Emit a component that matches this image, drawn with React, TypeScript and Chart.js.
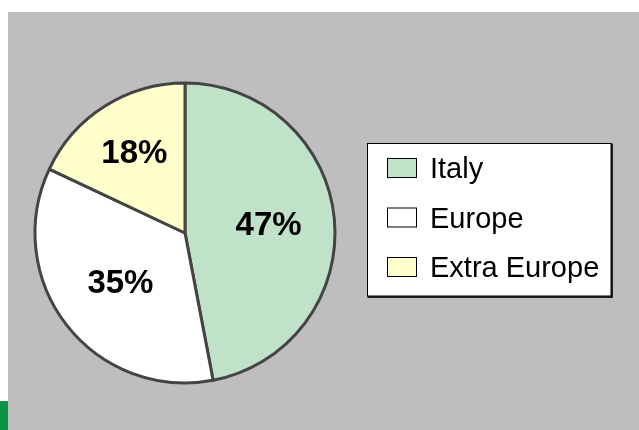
import React, { useEffect, useRef } from "react";
import { Chart, registerables } from "chart.js";

Chart.register(...registerables);

const categories = ["Italy", "Europe", "Extra Europe"];
const shares = [47, 35, 18];
const sliceColors = ["#c0e2c9", "#ffffff", "#ffffcc"];

const FONT = "Arial, 'Liberation Sans', sans-serif";

const backdropPlugin = {
  id: "backdrop",
  beforeDraw(chart: any) {
    const ctx = chart.ctx;
    ctx.save();
    ctx.fillStyle = "#ffffff";
    ctx.fillRect(0, 0, chart.width, chart.height);
    ctx.fillStyle = "#bebebe";
    ctx.fillRect(8, 12, chart.width - 8, chart.height - 12);
    ctx.fillStyle = "#0b9444";
    ctx.fillRect(0, 401, 8, chart.height - 401);
    ctx.restore();
  },
};

const labelFactors = [0.56, 0.545, 0.63];

const labelsPlugin = {
  id: "sliceLabels",
  afterDatasetsDraw(chart: any) {
    const ctx = chart.ctx;
    const meta = chart.getDatasetMeta(0);
    ctx.save();
    ctx.font = `bold 33px ${FONT}`;
    ctx.fillStyle = "#000";
    ctx.textAlign = "center";
    ctx.textBaseline = "middle";
    meta.data.forEach((arc: any, i: number) => {
      const { x, y, startAngle, endAngle, outerRadius } = arc.getProps(
        ["x", "y", "startAngle", "endAngle", "outerRadius"],
        true
      );
      const mid = (startAngle + endAngle) / 2;
      const r = outerRadius * labelFactors[i];
      ctx.fillText(`${shares[i]}%`, x + Math.cos(mid) * r, y + Math.sin(mid) * r + 1);
    });
    ctx.restore();
  },
};

const legendPlugin = {
  id: "boxLegend",
  afterDraw(chart: any) {
    const ctx = chart.ctx;
    const left = 367.5, top = 143.5, right = 611, bottom = 296;
    ctx.save();
    ctx.fillStyle = "#ffffff";
    ctx.fillRect(left, top, right - left, bottom - top);
    // shadow
    ctx.fillStyle = "#222";
    ctx.fillRect(right, top, 2, bottom - top + 2);
    ctx.fillRect(left, bottom, right - left + 2, 2);
    ctx.strokeStyle = "#000";
    ctx.lineWidth = 1;
    ctx.strokeRect(left, top, right - left, bottom - top);
    ctx.font = `29px ${FONT}`;
    ctx.textBaseline = "alphabetic";
    ctx.textAlign = "left";
    categories.forEach((name, i) => {
      const base = 178 + i * 49.5;
      ctx.fillStyle = sliceColors[i];
      ctx.fillRect(387, base - 20, 30, 19);
      ctx.strokeStyle = "#000";
      ctx.lineWidth = 1;
      ctx.strokeRect(387.5, base - 19.5, 29, 19);
      ctx.fillStyle = "#000";
      ctx.fillText(name, 430, base);
    });
    ctx.restore();
  },
};

export default function App() {
  const ref = useRef<HTMLCanvasElement | null>(null);
  useEffect(() => {
    if (!ref.current) return;
    const chart = new Chart(ref.current, {
      type: "pie",
      data: {
        labels: categories,
        datasets: [
          {
            data: shares,
            backgroundColor: sliceColors,
            borderColor: "#444444",
            borderWidth: 3,
          },
        ],
      },
      options: {
        responsive: false,
        animation: false,
        radius: 150,
        layout: { padding: { left: 10, right: 279, top: 40, bottom: 4 } },
        plugins: {
          legend: { display: false },
          tooltip: { enabled: false },
        },
      } as any,
      plugins: [backdropPlugin, labelsPlugin, legendPlugin],
    });
    return () => chart.destroy();
  }, []);
  return (
    <div style={{ position: "fixed", left: 0, top: 0, width: 639, height: 430 }}>
      <canvas ref={ref} width={639} height={430} style={{ display: "block" }} />
    </div>
  );
}
